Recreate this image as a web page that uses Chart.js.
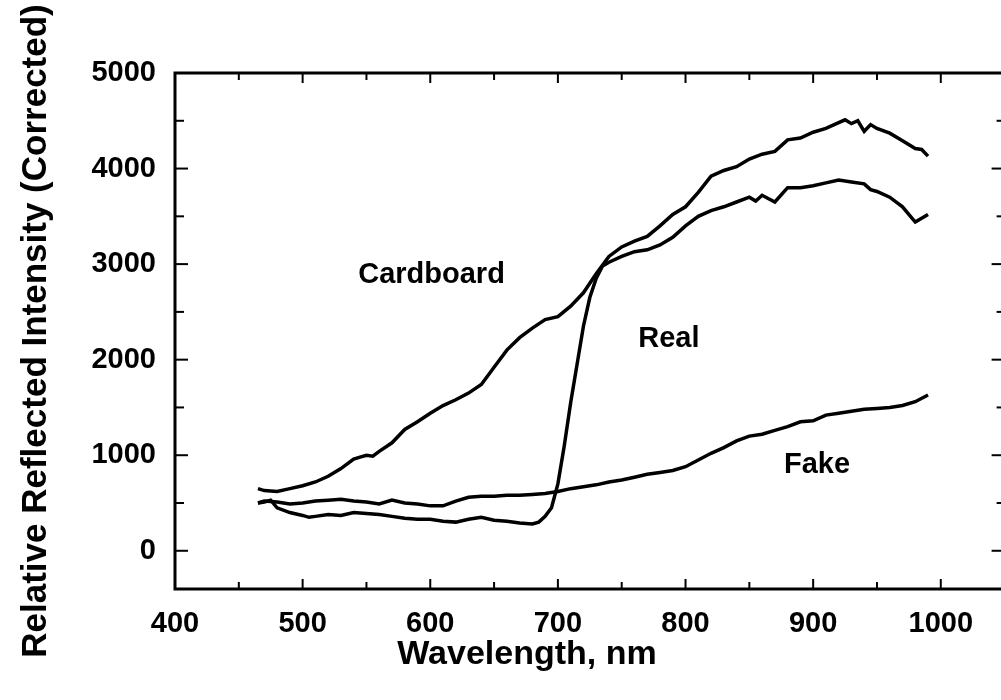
<!DOCTYPE html>
<html><head><meta charset="utf-8">
<script src="https://cdn.jsdelivr.net/npm/chart.js@4.4.0/dist/chart.umd.min.js"></script>
<style>html,body{margin:0;padding:0;background:#fff;overflow:hidden;}#wrap{width:1010px;height:700px;}</style>
</head><body><div id="wrap"><canvas id="c" width="1010" height="700"></canvas></div>
<script>
const cardboardNm = [465,470,480,490,500,510,520,530,540,545,550,555,560,570,580,590,600,610,620,630,640,650,660,670,680,690,700,710,720,730,740,750,760,770,780,790,800,810,820,830,840,850,860,870,880,890,900,910,920,925,930,935,940,945,950,960,970,980,985,990];
const cardboardVal = [650,630,620,650,680,720,780,860,960,980,1000,990,1040,1130,1270,1350,1440,1520,1580,1650,1740,1920,2100,2230,2330,2420,2450,2560,2700,2900,3080,3180,3240,3290,3400,3520,3600,3750,3920,3980,4020,4100,4150,4180,4300,4320,4380,4420,4480,4510,4470,4500,4390,4460,4420,4370,4290,4210,4200,4130];
const realNm = [465,470,475,480,490,500,505,510,520,530,540,550,560,570,580,590,600,610,620,630,640,650,660,670,680,685,690,695,700,705,710,715,720,725,730,735,740,750,760,770,780,790,800,810,820,830,840,850,855,860,870,880,890,900,910,920,930,940,945,950,960,970,980,990];
const realVal = [500,510,530,450,400,370,350,360,380,370,400,390,380,360,340,330,330,310,300,330,350,320,310,290,280,300,360,450,700,1100,1550,1950,2350,2650,2850,2980,3020,3080,3130,3150,3200,3280,3400,3500,3560,3600,3650,3700,3660,3720,3650,3800,3800,3820,3850,3880,3860,3840,3780,3760,3700,3600,3440,3520];
const fakeNm = [465,470,480,490,500,510,520,530,540,550,560,570,580,590,600,610,620,630,640,650,660,670,680,690,700,710,720,730,740,750,760,770,780,790,800,810,820,830,840,850,860,870,880,890,900,910,920,930,940,950,960,970,980,990];
const fakeVal = [500,520,510,490,500,520,530,540,520,510,490,530,500,490,470,470,520,560,570,570,580,580,590,600,620,650,670,690,720,740,770,800,820,840,880,950,1020,1080,1150,1200,1220,1260,1300,1350,1360,1420,1440,1460,1480,1490,1500,1520,1560,1630];
const seriesNames = ['Cardboard','Real','Fake'];
const xTickValues = [400,500,600,700,800,900,1000];
const xMinorValues = [450,550,650,750,850,950];
const yTickValues = [0,1000,2000,3000,4000,5000];
const yMinorValues = [500,1500,2500,3500,4500];
const annotationAt = {Cardboard:[601,2884], Real:[787,2221], Fake:[903,895]};
const xTitle = 'Wavelength, nm';
const yTitle = 'Relative Reflected Intensity (Corrected)';

const FONT = '"Liberation Sans", Arial, sans-serif';
const pts = (xs, ys) => xs.map((x, i) => ({x, y: ys[i]}));

const framePlugin = {
  id: 'frame',
  afterDraw(chart) {
    const {ctx, chartArea: a, scales: {x, y}} = chart;
    ctx.save();
    ctx.strokeStyle = '#000';
    ctx.lineWidth = 2;
    const tick = (x1, y1, x2, y2) => { ctx.beginPath(); ctx.moveTo(x1, y1); ctx.lineTo(x2, y2); ctx.stroke(); };
    xTickValues.forEach(v => { const p = x.getPixelForValue(v); tick(p, a.bottom, p, a.bottom - 10); tick(p, a.top, p, a.top + 10); });
    xMinorValues.forEach(v => { const p = x.getPixelForValue(v); tick(p, a.bottom, p, a.bottom - 7); tick(p, a.top, p, a.top + 7); });
    yTickValues.forEach(v => { const p = y.getPixelForValue(v); tick(a.left, p, a.left + 13, p); tick(a.right, p, a.right - 13, p); });
    yMinorValues.forEach(v => { const p = y.getPixelForValue(v); tick(a.left, p, a.left + 9, p); tick(a.right, p, a.right - 8, p); });
    ctx.lineWidth = 3;
    ctx.strokeRect(a.left, a.top, a.right - a.left, a.bottom - a.top);
    ctx.fillStyle = '#000';
    ctx.font = 'bold 29px ' + FONT;
    ctx.textAlign = 'center';
    ctx.textBaseline = 'middle';
    seriesNames.forEach(n => {
      const [vx, vy] = annotationAt[n];
      ctx.fillText(n, x.getPixelForValue(vx), y.getPixelForValue(vy));
    });
    ctx.font = 'bold 34px ' + FONT;
    ctx.fillText(xTitle, 527, 655);
    ctx.restore();
  }
};

new Chart(document.getElementById('c'), {
  type: 'line',
  data: {
    datasets: [
      {label: seriesNames[0], data: pts(cardboardNm, cardboardVal)},
      {label: seriesNames[1], data: pts(realNm, realVal)},
      {label: seriesNames[2], data: pts(fakeNm, fakeVal)}
    ].map(d => Object.assign(d, {borderColor: '#000', borderWidth: 3.5, pointRadius: 0, tension: 0, fill: false}))
  },
  options: {
    responsive: false,
    animation: false,
    devicePixelRatio: 1,
    layout: {padding: {left: 0, top: 73, right: 5.4, bottom: 0}},
    plugins: {legend: {display: false}, tooltip: {enabled: false}},
    scales: {
      x: {
        type: 'linear', min: 400, max: 1050,
        grid: {display: false}, border: {display: false},
        afterBuildTicks: s => { s.ticks = xTickValues.map(v => ({value: v})); },
        afterFit: s => { s.height = 111; },
        ticks: {color: '#000', padding: 10, maxRotation: 0, autoSkip: false, font: {family: FONT, size: 29, weight: 'bold'}, callback: v => String(v)}
      },
      y: {
        type: 'linear', min: -400, max: 5000,
        grid: {display: false}, border: {display: false},
        afterBuildTicks: s => { s.ticks = yTickValues.map(v => ({value: v})); },
        afterFit: s => { s.width = 175; },
        ticks: {color: '#000', padding: 11, font: {family: FONT, size: 29, weight: 'bold'}, callback: v => String(v)},
        title: {display: true, text: yTitle, color: '#000', padding: {top: 15, bottom: 4}, font: {family: FONT, size: 35, weight: 'bold'}}
      }
    }
  },
  plugins: [framePlugin]
});
</script></body></html>
